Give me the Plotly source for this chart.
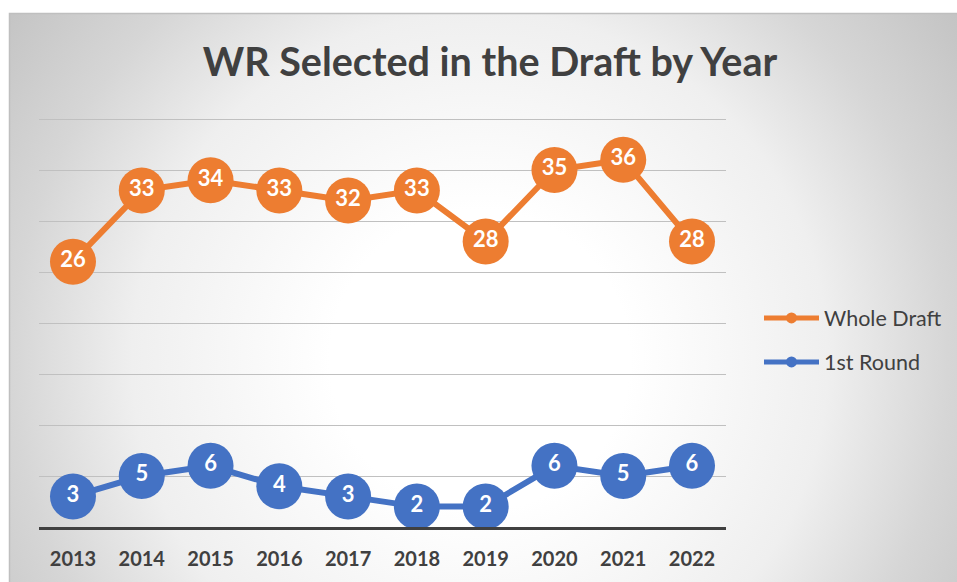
import plotly.graph_objects as go

years = ["2013", "2014", "2015", "2016", "2017", "2018", "2019", "2020", "2021", "2022"]
whole_draft = [26, 33, 34, 33, 32, 33, 28, 35, 36, 28]
first_round = [3, 5, 6, 4, 3, 2, 2, 6, 5, 6]

ORANGE = "#ED7D31"
BLUE = "#4472C4"
DARK = "#404040"
FONT = "Lato"

W, H = 957, 582


def px_x(v):
    return v / W


def px_y(v):
    return 1 - v / H


# value axis: 0 sits at y=527px, 10.2px per unit, shown up to a little above 40
Y_TOP = 40.5
Y_PX0, Y_PX_PER = 527, 10.2

fig = go.Figure()

# chart background: circular grey gradient, clipped to the chart area
R = 600
cx, cy = 480, 360
fig.add_trace(go.Scatter(
    x=[cx - R, cx + R, cx + R, cx - R, cx - R],
    y=[cy - R, cy - R, cy + R, cy + R, cy - R],
    mode="lines", fill="toself", line=dict(width=0),
    fillgradient=dict(type="radial", colorscale=[
        [0, "#ffffff"], [0.25, "#ffffff"], [0.58, "#efefef"],
        [0.78, "#d6d6d6"], [1, "#c2c2c2"]]),
    hoverinfo="skip", showlegend=False, xaxis="x", yaxis="y",
))


def series(name, values, color):
    fig.add_trace(go.Scatter(
        x=years, y=values, mode="lines+markers+text",
        line=dict(color=color, width=6),
        marker=dict(color=color, size=46),
        text=[str(v) for v in values], textposition="middle center",
        textfont=dict(family=FONT, size=22, color="white", weight="bold"),
        cliponaxis=False, showlegend=False, name=name,
        xaxis="x2", yaxis="y2",
    ))
    # small legend entry
    fig.add_trace(go.Scatter(
        x=[None], y=[None], mode="lines+markers", name=name,
        line=dict(color=color, width=5), marker=dict(color=color, size=11),
        legendgroup=name, xaxis="x2", yaxis="y2",
    ))


series("Whole Draft", whole_draft, ORANGE)
series("1st Round", first_round, BLUE)

fig.update_layout(
    width=W, height=H,
    margin=dict(l=0, r=0, t=0, b=0),
    paper_bgcolor="white", plot_bgcolor="rgba(0,0,0,0)",
    font=dict(family=FONT, color=DARK),
    title=dict(
        text="WR Selected in the Draft by Year",
        font=dict(family=FONT, size=39.5, color=DARK, weight="bold"),
        x=px_x(490), xanchor="center", y=px_y(62), yanchor="middle",
    ),
    xaxis=dict(domain=[px_x(9), 1], range=[9, 957], visible=False, fixedrange=True),
    yaxis=dict(domain=[0, px_y(13)], range=[582, 13], visible=False, fixedrange=True),
    xaxis2=dict(
        domain=[px_x(38.6), px_x(726.4)], anchor="y2", type="category",
        range=[-0.5, 9.5],
        showgrid=False, showline=True, linecolor=DARK, linewidth=3,
        ticks="", ticklabelstandoff=12,
        tickfont=dict(family=FONT, size=20, color=DARK, weight="bold"),
    ),
    yaxis2=dict(
        domain=[px_y(Y_PX0), px_y(Y_PX0 - Y_TOP * Y_PX_PER)], anchor="x2",
        range=[0, Y_TOP],
        dtick=5, showticklabels=False, gridcolor="#c0c0c0", gridwidth=1,
        zeroline=False,
    ),
    legend=dict(
        x=px_x(759), xanchor="left", y=px_y(340), yanchor="middle",
        bgcolor="rgba(0,0,0,0)", font=dict(family=FONT, size=21.5, color=DARK),
        itemwidth=55, tracegroupgap=13,
    ),
    shapes=[dict(
        type="rect", xref="paper", yref="paper",
        x0=px_x(9.5), x1=1.05, y0=-0.05, y1=px_y(13.5),
        line=dict(color="#bfbfbf", width=1.5), layer="above",
    )],
)

# drop the default body margin so the figure sits at the window's corner
fig.write_html(
    "out.html",
    config={"displayModeBar": False},
    post_script="document.body.style.margin = '0';",
)
